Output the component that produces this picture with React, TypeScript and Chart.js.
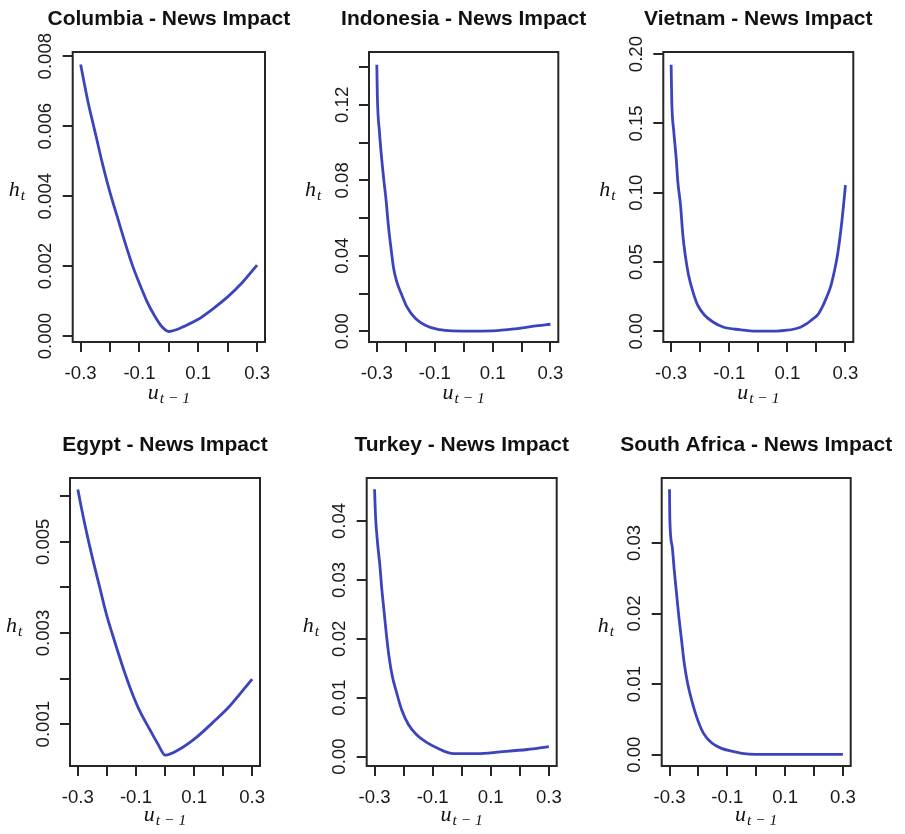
import React, { useEffect, useRef } from 'react';
import { Chart, registerables } from 'chart.js';

Chart.register(...registerables);

// ---------- data ----------
const xTicks = [-0.3, -0.2, -0.1, 0, 0.1, 0.2, 0.3];
const xTickLabels = ['-0.3', '', '-0.1', '', '0.1', '', '0.3'];

const columbiaU = [-0.3, -0.275, -0.25, -0.225, -0.2, -0.175, -0.15, -0.125, -0.1, -0.075, -0.05, -0.025, 0, 0.025, 0.05, 0.1, 0.15, 0.2, 0.25, 0.3];
const columbiaH = [0.00776, 0.0067, 0.0058, 0.0049, 0.0041, 0.0034, 0.0027, 0.00205, 0.0015, 0.001, 0.0006, 0.00028, 0.00013, 0.00018, 0.00027, 0.00048, 0.00078, 0.00112, 0.00153, 0.00203];
const columbiaYTicks = [0, 0.002, 0.004, 0.006, 0.008];
const columbiaYLabels = ['0.000', '0.002', '0.004', '0.006', '0.008'];

const indonesiaU = [-0.3, -0.298, -0.291, -0.2838, -0.2765, -0.268, -0.2597, -0.2514, -0.2424, -0.2307, -0.2134, -0.196, -0.1673, -0.1327, -0.0922, -0.05, 0, 0.1, 0.185, 0.242, 0.3];
const indonesiaH = [0.1412, 0.1236, 0.1058, 0.0925, 0.0812, 0.0695, 0.0555, 0.0445, 0.0338, 0.026, 0.0191, 0.0129, 0.0069, 0.0032, 0.0011, 0.0003, 0.0001, 0.0002, 0.0014, 0.0027, 0.0037];
const indonesiaYTicks = [0, 0.02, 0.04, 0.06, 0.08, 0.1, 0.12, 0.14];
const indonesiaYLabels = ['0.00', '', '0.04', '', '0.08', '', '0.12', ''];

const vietnamU = [-0.3, -0.2978, -0.2909, -0.2826, -0.277, -0.2677, -0.2597, -0.2514, -0.24, -0.225, -0.2078, -0.1846, -0.1559, -0.1213, -0.0636, -0.006, 0.063, 0.1, 0.121, 0.145, 0.167, 0.185, 0.205, 0.22, 0.235, 0.25, 0.262, 0.271, 0.28, 0.287, 0.293, 0.3];
const vietnamH = [0.1923, 0.1658, 0.1441, 0.1248, 0.1079, 0.0911, 0.0694, 0.0549, 0.0405, 0.0285, 0.0185, 0.0116, 0.0067, 0.0031, 0.0012, 0.0002, 0.0002, 0.0008, 0.0015, 0.003, 0.0055, 0.0085, 0.012, 0.0175, 0.0245, 0.033, 0.0435, 0.053, 0.066, 0.078, 0.09, 0.1055];
const vietnamYTicks = [0, 0.05, 0.1, 0.15, 0.2];
const vietnamYLabels = ['0.00', '0.05', '0.10', '0.15', '0.20'];

const egyptU = [-0.3, -0.2885, -0.269, -0.248, -0.225, -0.202, -0.174, -0.145, -0.116, -0.087, -0.053, -0.024, 0.001, 0.05, 0.108, 0.165, 0.223, 0.3];
const egyptH = [0.00615, 0.00577, 0.00518, 0.0046, 0.00401, 0.00342, 0.00283, 0.00225, 0.00173, 0.00129, 0.00089, 0.00056, 0.00032, 0.00045, 0.00071, 0.00104, 0.0014, 0.00199];
const egyptYTicks = [0.001, 0.002, 0.003, 0.004, 0.005, 0.006];
const egyptYLabels = ['0.001', '', '0.003', '', '0.005', ''];

const turkeyU = [-0.3, -0.2966, -0.2897, -0.2815, -0.276, -0.2667, -0.2587, -0.2505, -0.2391, -0.2243, -0.207, -0.1839, -0.1552, -0.1208, -0.0863, -0.0276, 0.053, 0.133, 0.2253, 0.3];
const turkeyH = [0.0454, 0.0408, 0.0363, 0.0324, 0.029, 0.0244, 0.0205, 0.0171, 0.0137, 0.0109, 0.008, 0.0055, 0.0037, 0.0024, 0.0015, 0.0005, 0.0005, 0.0008, 0.0012, 0.0017];
const turkeyYTicks = [0, 0.01, 0.02, 0.03, 0.04];
const turkeyYLabels = ['0.00', '0.01', '0.02', '0.03', '0.04'];

const southAfricaU = [-0.3, -0.299, -0.2907, -0.2837, -0.2758, -0.2678, -0.2585, -0.2491, -0.2377, -0.2238, -0.2065, -0.1833, -0.1546, -0.12, -0.0854, -0.05, 0, 0.3];
const southAfricaH = [0.0376, 0.0336, 0.0295, 0.0262, 0.0229, 0.0196, 0.0163, 0.013, 0.0102, 0.0078, 0.0054, 0.0031, 0.0017, 0.0009, 0.0005, 0.0002, 0.00005, 0.00005];
const southAfricaYTicks = [0, 0.01, 0.02, 0.03];
const southAfricaYLabels = ['0.00', '0.01', '0.02', '0.03'];

// ---------- layout / style ----------
const W = 905;
const H = 834;
const Y_AXIS_W = 60;
const X_AXIS_H = 60;
const TICK_LEN = 10;
const TICK_FONT_FAMILY = '"Liberation Sans", Arial, Helvetica, sans-serif';
const TICK_FONT_SIZE = 18.6;
const LINE_COLOR = '#3c44bd';
const AXIS_COLOR = '#262626';

const panels = [
  { title: 'Columbia - News Impact', u: columbiaU, h: columbiaH, yTicks: columbiaYTicks, yLabels: columbiaYLabels, yMin: -0.00017, yMax: 0.00812, box: { l: 72.7, r: 265, t: 52, b: 342 }, hBase: 196, uBase: 399 },
  { title: 'Indonesia - News Impact', u: indonesiaU, h: indonesiaH, yTicks: indonesiaYTicks, yLabels: indonesiaYLabels, yMin: -0.0057, yMax: 0.148, box: { l: 369, r: 558.3, t: 52, b: 342 }, hBase: 196, uBase: 399 },
  { title: 'Vietnam - News Impact', u: vietnamU, h: vietnamH, yTicks: vietnamYTicks, yLabels: vietnamYLabels, yMin: -0.0077, yMax: 0.2015, box: { l: 663.3, r: 853.3, t: 52, b: 342 }, hBase: 196, uBase: 399 },
  { title: 'Egypt - News Impact', u: egyptU, h: egyptH, yTicks: egyptYTicks, yLabels: egyptYLabels, yMin: 0.000083, yMax: 0.0064, box: { l: 70, r: 260, t: 478, b: 766 }, hBase: 632, uBase: 821 },
  { title: 'Turkey - News Impact', u: turkeyU, h: turkeyH, yTicks: turkeyYTicks, yLabels: turkeyYLabels, yMin: -0.0016, yMax: 0.0473, box: { l: 366.7, r: 556.7, t: 478, b: 766 }, hBase: 632, uBase: 821 },
  { title: 'South Africa - News Impact', u: southAfricaU, h: southAfricaH, yTicks: southAfricaYTicks, yLabels: southAfricaYLabels, yMin: -0.0016, yMax: 0.0392, box: { l: 661.7, r: 850.7, t: 478, b: 766 }, hBase: 632, uBase: 821 },
];

function measureWidest(labels: string[], font: string): number {
  const c = document.createElement('canvas').getContext('2d');
  if (!c) return 0;
  c.font = font;
  let m = 0;
  for (const l of labels) m = Math.max(m, c.measureText(l).width);
  return m;
}

function drawSub(ctx: CanvasRenderingContext2D, main: string, sub: string, x: number, y: number, align: 'left' | 'center') {
  const mainFont = 'italic 22px "Liberation Serif", "Times New Roman", serif';
  const subFont = 'italic 15.5px "Liberation Serif", "Times New Roman", serif';
  ctx.font = mainFont;
  const wm = ctx.measureText(main).width;
  ctx.font = subFont;
  const ws = ctx.measureText(sub).width;
  const gap = 1;
  let sx = x;
  if (align === 'center') sx = x - (wm + gap + ws) / 2;
  ctx.textAlign = 'left';
  ctx.textBaseline = 'alphabetic';
  ctx.font = mainFont;
  ctx.fillText(main, sx, y);
  ctx.font = subFont;
  ctx.fillText(sub, sx + wm + gap, y + 4);
}

const decorPlugin = {
  id: 'decor',
  afterDraw(chart: any, _args: any, opts: any) {
    const { ctx, chartArea: a } = chart;
    ctx.save();
    ctx.strokeStyle = AXIS_COLOR;
    ctx.lineWidth = 2;
    ctx.strokeRect(a.left, a.top, a.right - a.left, a.bottom - a.top);
    ctx.fillStyle = '#111';
    ctx.font = 'bold 21px "Liberation Sans", Arial, Helvetica, sans-serif';
    ctx.textAlign = 'center';
    ctx.textBaseline = 'alphabetic';
    ctx.fillText(opts.title, (a.left + a.right) / 2, a.top - 27);
    ctx.fillStyle = '#111';
    drawSub(ctx, 'h', 't', a.left - 64, opts.hBase, 'left');
    drawSub(ctx, 'u', 't \u2212 1', (a.left + a.right) / 2, opts.uBase, 'center');
    ctx.restore();
  },
};

function Panel({ p }: { p: (typeof panels)[number] }) {
  const ref = useRef<HTMLCanvasElement | null>(null);
  useEffect(() => {
    if (!ref.current) return;
    const tickFontStr = `${TICK_FONT_SIZE}px ${TICK_FONT_FAMILY}`;
    const widest = measureWidest(p.yLabels, tickFontStr);
    const yPad = 26.5 - TICK_LEN - widest / 2;
    const data = p.u.map((u, i) => ({ x: u, y: p.h[i] }));
    const gridOpts = {
      display: true,
      drawOnChartArea: false,
      drawTicks: true,
      tickLength: TICK_LEN,
      color: AXIS_COLOR,
      lineWidth: 2,
    };
    const chart = new Chart(ref.current, {
      type: 'scatter',
      data: {
        datasets: [
          {
            data,
            showLine: true,
            borderColor: LINE_COLOR,
            backgroundColor: LINE_COLOR,
            borderWidth: 2.8,
            pointRadius: 0,
            cubicInterpolationMode: 'monotone',
          } as any,
        ],
      },
      options: {
        animation: false,
        responsive: false,
        devicePixelRatio: 1,
        events: [],
        layout: {
          padding: {
            left: p.box.l - Y_AXIS_W,
            right: W - p.box.r,
            top: p.box.t,
            bottom: H - p.box.b - X_AXIS_H,
          },
        },
        plugins: {
          legend: { display: false },
          tooltip: { enabled: false },
          title: { display: false },
          decor: { title: p.title, hBase: p.hBase, uBase: p.uBase },
        } as any,
        scales: {
          x: {
            type: 'linear',
            min: -0.327,
            max: 0.327,
            bounds: 'data',
            afterBuildTicks: (s: any) => {
              s.ticks = xTicks.map((v) => ({ value: v }));
            },
            afterFit: (s: any) => {
              s.height = X_AXIS_H;
            },
            grid: gridOpts,
            border: { display: false },
            ticks: {
              autoSkip: false,
              minRotation: 0,
              maxRotation: 0,
              padding: 12.2,
              color: '#1a1a1a',
              font: { family: TICK_FONT_FAMILY, size: TICK_FONT_SIZE, lineHeight: 1 },
              callback: (_v: any, i: number) => xTickLabels[i],
            },
          },
          y: {
            type: 'linear',
            min: p.yMin,
            max: p.yMax,
            bounds: 'data',
            afterBuildTicks: (s: any) => {
              s.ticks = p.yTicks.map((v) => ({ value: v }));
            },
            afterFit: (s: any) => {
              s.width = Y_AXIS_W;
            },
            grid: gridOpts,
            border: { display: false },
            ticks: {
              autoSkip: false,
              minRotation: 90,
              maxRotation: 90,
              crossAlign: 'center',
              padding: yPad,
              color: '#1a1a1a',
              font: { family: TICK_FONT_FAMILY, size: TICK_FONT_SIZE, lineHeight: 1 },
              callback: (_v: any, i: number) => p.yLabels[i],
            },
          },
        } as any,
      },
      plugins: [decorPlugin as any],
    });
    return () => chart.destroy();
  }, [p]);
  return (
    <canvas
      ref={ref}
      width={W}
      height={H}
      style={{ position: 'absolute', left: 0, top: 0, width: W, height: H }}
    />
  );
}

export default function App() {
  return (
    <div style={{ position: 'absolute', left: 0, top: 0, width: W, height: H, background: '#fff', overflow: 'hidden' }}>
      {panels.map((p) => (
        <Panel key={p.title} p={p} />
      ))}
    </div>
  );
}
